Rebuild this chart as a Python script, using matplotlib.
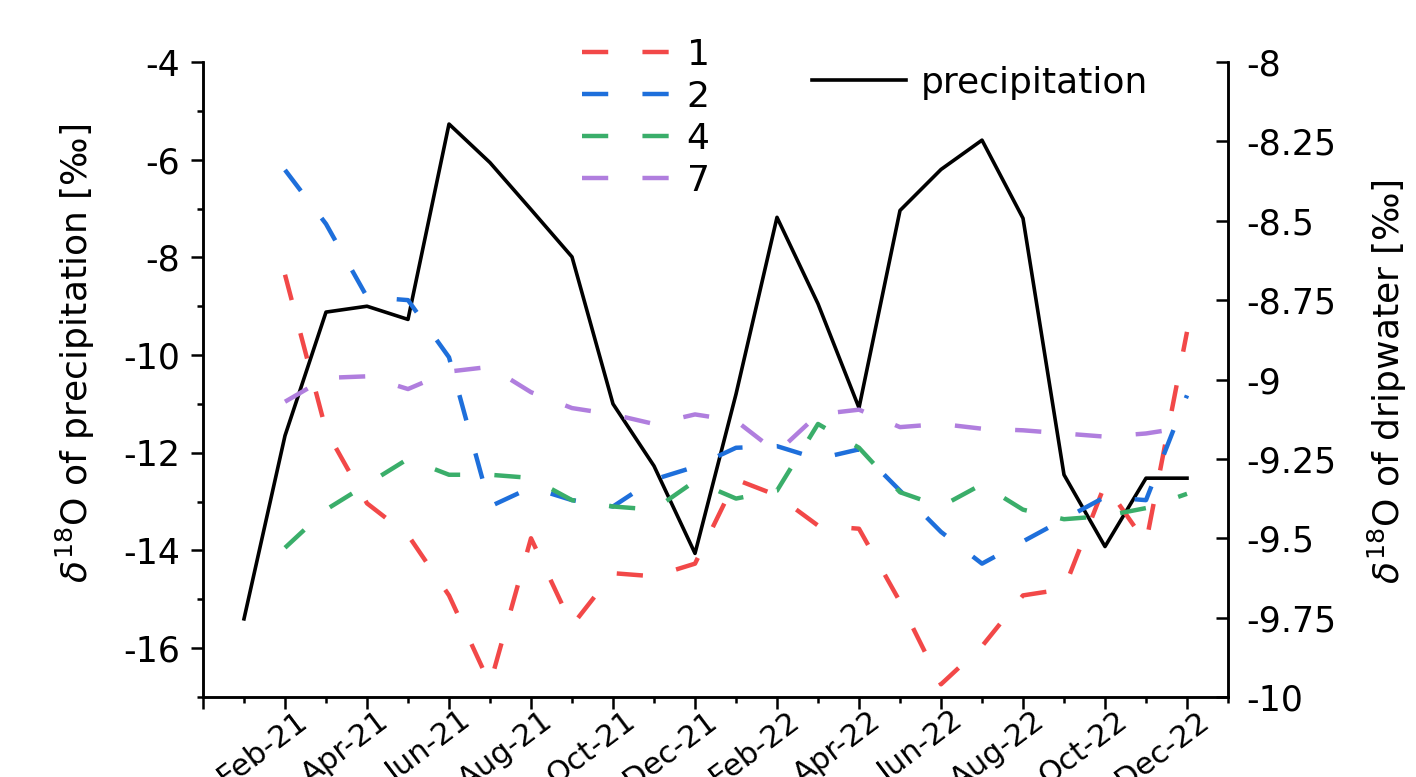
import numpy as np
import matplotlib
matplotlib.use("Agg")
import matplotlib.pyplot as plt
from matplotlib.ticker import MultipleLocator, FuncFormatter
from matplotlib.transforms import ScaledTranslation

plt.rcParams['font.family'] = ['DejaVu Sans']
plt.rcParams['mathtext.fontset'] = 'dejavusans'
plt.rcParams['axes.unicode_minus'] = False

months = ['Jan-21', 'Feb-21', 'Mar-21', 'Apr-21', 'May-21', 'Jun-21', 'Jul-21', 'Aug-21',
          'Sep-21', 'Oct-21', 'Nov-21', 'Dec-21', 'Jan-22', 'Feb-22', 'Mar-22', 'Apr-22',
          'May-22', 'Jun-22', 'Jul-22', 'Aug-22', 'Sep-22', 'Oct-22', 'Nov-22', 'Dec-22']

# precipitation d18O (left axis), Jan-21 .. Dec-22
precip = [-15.4, -11.65, -9.12, -9.0, -9.27, -5.27, -6.06, -7.02, -7.99, -11.0, -12.27, -14.06,
          -10.8, -7.18, -8.95, -11.08, -7.04, -6.2, -5.6, -7.2, -12.45, -13.92, -12.52, -12.52]

# dripwater d18O (right axis), Feb-21 .. Dec-22
site1 = [-8.67, -9.16, -9.39, -9.49, -9.68, -9.96, -9.50, -9.775, -9.61, -9.62, -9.58, -9.315,
         -9.365, -9.46, -9.47, -9.70, -9.96, -9.84, -9.68, -9.66, -9.33, -9.515, -8.85]
site2 = [-8.34, -8.51, -8.74, -8.75, -8.93, -9.40, -9.34, -9.38, -9.40, -9.315, -9.275, -9.215,
         -9.21, -9.25, -9.22, -9.35, -9.48, -9.58, -9.51, -9.44, -9.37, -9.38, -9.05]
site4 = [-9.53, -9.41, -9.33, -9.25, -9.30, -9.30, -9.31, -9.38, -9.40, -9.41, -9.32, -9.375,
         -9.35, -9.14, -9.215, -9.355, -9.40, -9.33, -9.41, -9.44, -9.43, -9.405, -9.36]
site7 = [-9.07, -8.995, -8.99, -9.03, -8.975, -8.96, -9.04, -9.09, -9.11, -9.14, -9.11, -9.13,
         -9.23, -9.11, -9.095, -9.15, -9.14, -9.155, -9.16, -9.17, -9.18, -9.17, -9.15]

site_names = ['1', '2', '4', '7']
site_colors = ['#F24848', '#1E6FDB', '#3AAE6A', '#B07EDE']

x_precip = np.arange(len(months))
x_drip = np.arange(1, len(months))

fig = plt.figure(figsize=(14.16, 7.77), dpi=100)
ax = fig.add_axes([203/1416, 80/777, 1025/1416, 635/777])
ax2 = ax.twinx()

prec_line, = ax.plot(x_precip, precip, color='black', lw=2.6, label='precipitation')

drip_lines = []
for vals, name, col in zip([site1, site2, site4, site7], site_names, site_colors):
    ln, = ax2.plot(x_drip, vals, color=col, lw=3.2, linestyle=(0, (5.9, 7.7)), label=name)
    drip_lines.append(ln)

ax.set_xlim(-1, 24)
ax.set_ylim(-17, -4)
ax2.set_ylim(-10, -8)

# x ticks: long ticks every second month, short ticks in between
major_x = list(range(-1, 24, 2))
ax.set_xticks(major_x)
ax.set_xticklabels([])
ax.set_xticks(list(range(0, 25, 2)), minor=True)

# rotated month labels, sitting a bit right of their tick (like the original)
lab_tr = ax.get_xaxis_transform() + ScaledTranslation(10/100, -9/100, fig.dpi_scale_trans)
for i in range(1, 24, 2):
    ax.text(i, 0, months[i], transform=lab_tr, rotation=37, rotation_mode='anchor',
            ha='right', va='top', fontsize=22, clip_on=False)

ax.yaxis.set_major_locator(MultipleLocator(2))
ax.yaxis.set_minor_locator(MultipleLocator(1))
ax2.yaxis.set_major_locator(MultipleLocator(0.25))
ax2.yaxis.set_major_formatter(FuncFormatter(lambda v, p: '%g' % v))

for a in (ax, ax2):
    a.spines['top'].set_visible(False)
    for s in a.spines.values():
        s.set_linewidth(1.8)

ax.tick_params(axis='x', which='major', direction='out', length=8.5, width=1.8)
ax.tick_params(axis='x', which='minor', direction='out', length=4.5, width=1.8)
ax.tick_params(axis='y', which='major', direction='out', length=8.5, width=1.8, labelsize=25, pad=8)
ax.tick_params(axis='y', which='minor', direction='out', length=4.5, width=1.8)
ax2.tick_params(axis='y', which='major', direction='in', length=9, width=1.8, labelsize=25, pad=13)

ax.set_ylabel(r'$\delta^{18}$O of precipitation [‰]', fontsize=26)
ax.yaxis.set_label_coords(-0.103, 0.542)
ax2.set_ylabel(r'$\delta^{18}$O of dripwater [‰]', fontsize=26)
ax2.yaxis.set_label_coords(1.134, 0.496)

leg1 = ax2.legend(handles=drip_lines, loc='upper left',
                  bbox_to_anchor=(582/1416, 1 - 38/777), bbox_transform=fig.transFigure,
                  frameon=False, fontsize=26, handlelength=2.4, handletextpad=0.5,
                  labelspacing=0.22, borderpad=0, borderaxespad=0)
ax2.add_artist(leg1)
ax2.legend(handles=[prec_line], loc='upper left',
           bbox_to_anchor=(812/1416, 1 - 66/777), bbox_transform=fig.transFigure,
           frameon=False, fontsize=26, handlelength=2.6, handletextpad=0.4,
           borderpad=0, borderaxespad=0)

fig.savefig('out.png', dpi=100)
